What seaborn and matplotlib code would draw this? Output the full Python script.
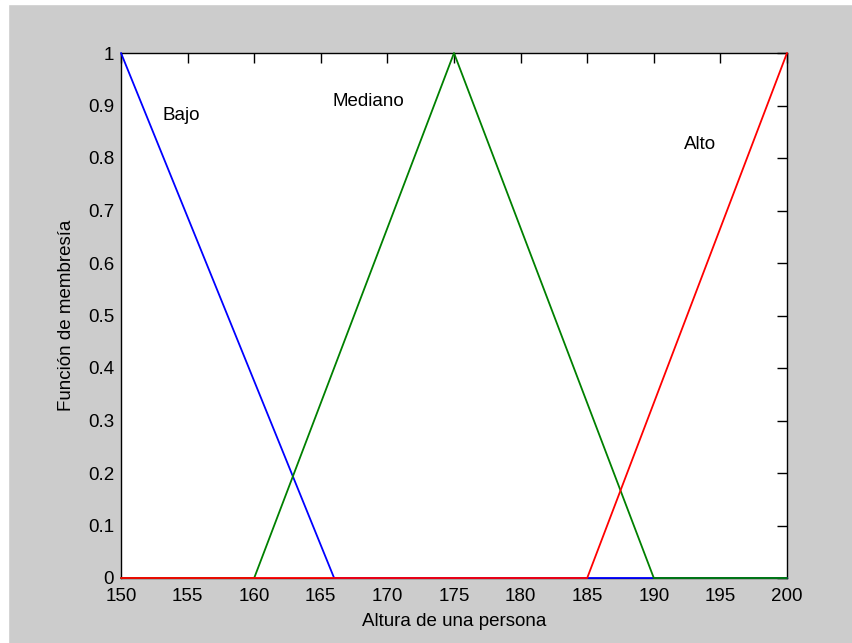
import matplotlib
matplotlib.use("Agg")
import matplotlib.pyplot as plt
import seaborn as sns
import pandas as pd
from matplotlib.patches import Rectangle

# Data
bajo_x = [150, 166, 200]
bajo_y = [1, 0, 0]
mediano_x = [150, 160, 175, 190, 200]
mediano_y = [0, 0, 1, 0, 0]
alto_x = [150, 185, 200]
alto_y = [0, 0, 1]
x_ticks = [150, 155, 160, 165, 170, 175, 180, 185, 190, 195, 200]
y_ticks = [0, 0.1, 0.2, 0.3, 0.4, 0.5, 0.6, 0.7, 0.8, 0.9, 1]
y_tick_labels = ["0", "0.1", "0.2", "0.3", "0.4", "0.5", "0.6", "0.7", "0.8", "0.9", "1"]
labels = ["Bajo", "Mediano", "Alto"]
label_pos = [(153.1, 0.88), (165.9, 0.907), (192.3, 0.825)]

sns.set_style("white")
plt.rcParams['font.family'] = ['Liberation Sans', 'DejaVu Sans']

fig = plt.figure(figsize=(8.53, 6.43), dpi=100, facecolor="#cccccc")
# white border strips on left and top
fig.patches.append(Rectangle((0, 0), 8/853, 1, transform=fig.transFigure, color="white", zorder=-1))
fig.patches.append(Rectangle((0, 1 - 4/643), 1, 4/643, transform=fig.transFigure, color="white", zorder=-1))

ax = fig.add_axes([121/853, 65/643, 666/853, 525/643])
ax.set_facecolor("white")

series = [
    (pd.DataFrame({"x": bajo_x, "y": bajo_y}), "#0000ff"),
    (pd.DataFrame({"x": mediano_x, "y": mediano_y}), "#008000"),
    (pd.DataFrame({"x": alto_x, "y": alto_y}), "#ff0000"),
]
for i, (df, c) in enumerate(series):
    sns.lineplot(data=df, x="x", y="y", sort=False, color=c, linewidth=1.3,
                 ax=ax, clip_on=False, zorder=3 + i)

for lab, (tx, ty) in zip(labels, label_pos):
    ax.text(tx, ty, lab, fontsize=13.5, ha="left", va="center", color="black")

ax.set_xlim(150, 200)
ax.set_ylim(0, 1)
ax.set_xticks(x_ticks)
ax.set_xticklabels([str(t) for t in x_ticks])
ax.set_yticks(y_ticks)
ax.set_yticklabels(y_tick_labels)
ax.tick_params(direction="in", length=7, width=1, top=True, right=True,
               labelsize=13.5, colors="black")
ax.tick_params(axis="x", pad=7)
ax.tick_params(axis="y", pad=5)
for s in ax.spines.values():
    s.set_visible(True)
    s.set_color("black")
    s.set_linewidth(1)
ax.set_xlabel("Altura de una persona", fontsize=13.5, labelpad=6, color="black")
ax.set_ylabel("Función de membresía", fontsize=13.5, labelpad=9, color="black")

fig.savefig("out.png", dpi=100, facecolor=fig.get_facecolor())
